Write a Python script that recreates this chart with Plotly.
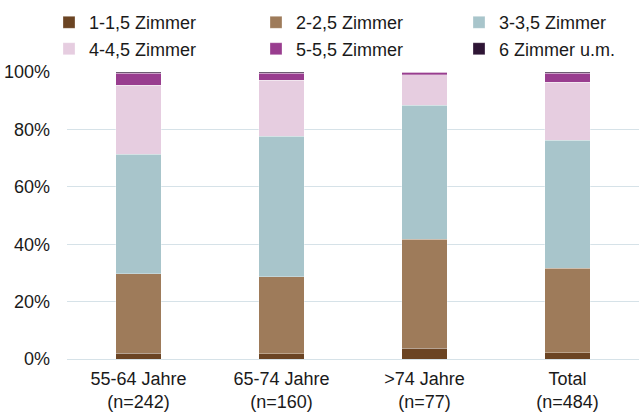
import plotly.graph_objects as go

categories = ["55-64 Jahre<br>(n=242)", "65-74 Jahre<br>(n=160)", ">74 Jahre<br>(n=77)", "Total<br>(n=484)"]
series_names = ["1-1,5 Zimmer", "2-2,5 Zimmer", "3-3,5 Zimmer", "4-4,5 Zimmer", "5-5,5 Zimmer", "6 Zimmer u.m."]
zimmer_1 = [2.0, 1.9, 3.8, 2.2]
zimmer_2 = [27.7, 26.8, 37.9, 29.5]
zimmer_3 = [41.6, 49.0, 46.8, 44.6]
zimmer_4 = [24.1, 19.5, 10.5, 20.2]
zimmer_5 = [4.1, 2.4, 1.0, 3.1]
zimmer_6 = [0.5, 0.4, 0.0, 0.4]
colors = ["#6b4423", "#9e7b5a", "#a8c5cb", "#e6cde0", "#993d8f", "#2e1535"]
y_ticks = [0, 20, 40, 60, 80, 100]

all_series = [zimmer_1, zimmer_2, zimmer_3, zimmer_4, zimmer_5, zimmer_6]
legend_ids = ["legend", "legend2", "legend3", "legend", "legend2", "legend3"]

fig = go.Figure()
for i, (name, vals, col) in enumerate(zip(series_names, all_series, colors)):
    fig.add_trace(go.Bar(
        name=name, x=categories, y=vals,
        legend=legend_ids[i], legendgroup=name,
        marker=dict(color=col, line=dict(color="rgba(255,255,255,0.5)", width=0.6)),
    ))

def leg(xpx):
    return dict(
        orientation="v",
        xref="container", yref="container",
        x=xpx / 639, xanchor="left",
        y=0.99, yanchor="top",
        traceorder="normal",
        tracegroupgap=2,
        font=dict(size=18),
        bgcolor="rgba(0,0,0,0)",
    )

fig.update_layout(
    barmode="stack",
    bargap=0.68,
    width=639, height=413,
    margin=dict(l=67, r=0, t=72, b=54, autoexpand=False),
    paper_bgcolor="white",
    plot_bgcolor="white",
    font=dict(family="Liberation Sans, Arial, sans-serif", size=18, color="#1a1a1a"),
    legend=leg(49),
    legend2=leg(256),
    legend3=leg(459),
    xaxis=dict(showgrid=False, showline=False, ticks="", tickfont=dict(size=18),
               automargin=False, ticklabelstandoff=7),
    yaxis=dict(
        range=[0, 100],
        tickvals=y_ticks,
        ticktext=[f"{v}%" for v in y_ticks],
        showgrid=True, gridcolor="#d6e2e8", gridwidth=1,
        zeroline=True, zerolinecolor="#d6e2e8", zerolinewidth=1,
        showline=False, ticks="",
        ticklabelstandoff=16,
        tickfont=dict(size=18),
        automargin=False,
    ),
)

fig.write_html("out.html", config={"displayModeBar": False},
               post_script="document.body.style.margin='0px';")
